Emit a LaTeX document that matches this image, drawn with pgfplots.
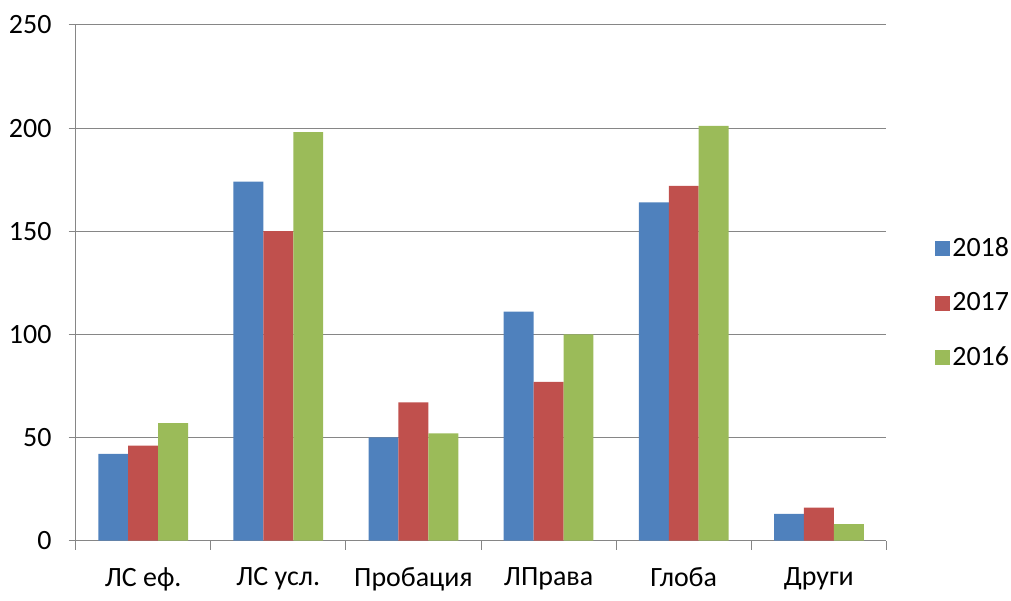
\documentclass[border=0pt]{standalone}
\usepackage{fontspec}
\setmainfont{Carlito}
\usepackage{pgfplots}
\pgfplotsset{compat=1.18}
\definecolor{cblue}{HTML}{4F81BD}
\definecolor{cred}{HTML}{C0504D}
\definecolor{cgreen}{HTML}{9BBB59}
\definecolor{cgrid}{HTML}{868686}
\begin{document}
\fontsize{27}{32}\selectfont
\begin{tikzpicture}
\begin{axis}[
  at={(0,0)}, anchor=south west,
  scale only axis,
  width=813pt, height=517pt,
  ybar=0pt, bar width=30pt,
  xmin=-0.5, xmax=5.5,
  ymin=0, ymax=250,
  ytick={0,50,...,250},
  xtick={0,1,2,3,4,5},
  xticklabels={ЛС еф., ЛС усл., Пробация, ЛПрава, Глоба, Други},
  minor xtick={-0.5,0.5,...,5.5},
  major x tick style={draw=none},
  minor x tick style={draw=cgrid, line width=1pt},
  minor tick length=9pt,
  major tick length=7pt,
  tick align=outside,
  y tick style={draw=cgrid, line width=1pt},
  axis x line*=bottom, axis y line*=left,
  axis line style={draw=cgrid, line width=1pt, -},
  ymajorgrids, grid style={draw=cgrid, line width=1pt},
  /pgf/number format/assume math mode=true,
  tick label style={font=\fontsize{28}{32}\selectfont},
  xticklabel style={yshift=-11pt},
  yticklabel style={xshift=-8pt},
  legend style={at={(1.06,0.46)}, anchor=west, draw=none, fill=none,
    font=\fontsize{28}{32}\selectfont, row sep=28pt, inner sep=0pt},
  legend cell align=left,
  legend image code/.code={\fill[#1] (0,-0.28em) rectangle (0.56em,0.28em);},
]
\addplot[fill=cblue, draw=none] coordinates {(0,42) (1,174) (2,50) (3,111) (4,164) (5,13)};
\addplot[fill=cred, draw=none] coordinates {(0,46) (1,150) (2,67) (3,77) (4,172) (5,16)};
\addplot[fill=cgreen, draw=none] coordinates {(0,57) (1,198) (2,52) (3,100) (4,201) (5,8)};
\legend{2018,2017,2016}
\end{axis}
\useasboundingbox (-75pt,-51pt) rectangle (936pt,542pt);
\end{tikzpicture}
\end{document}
